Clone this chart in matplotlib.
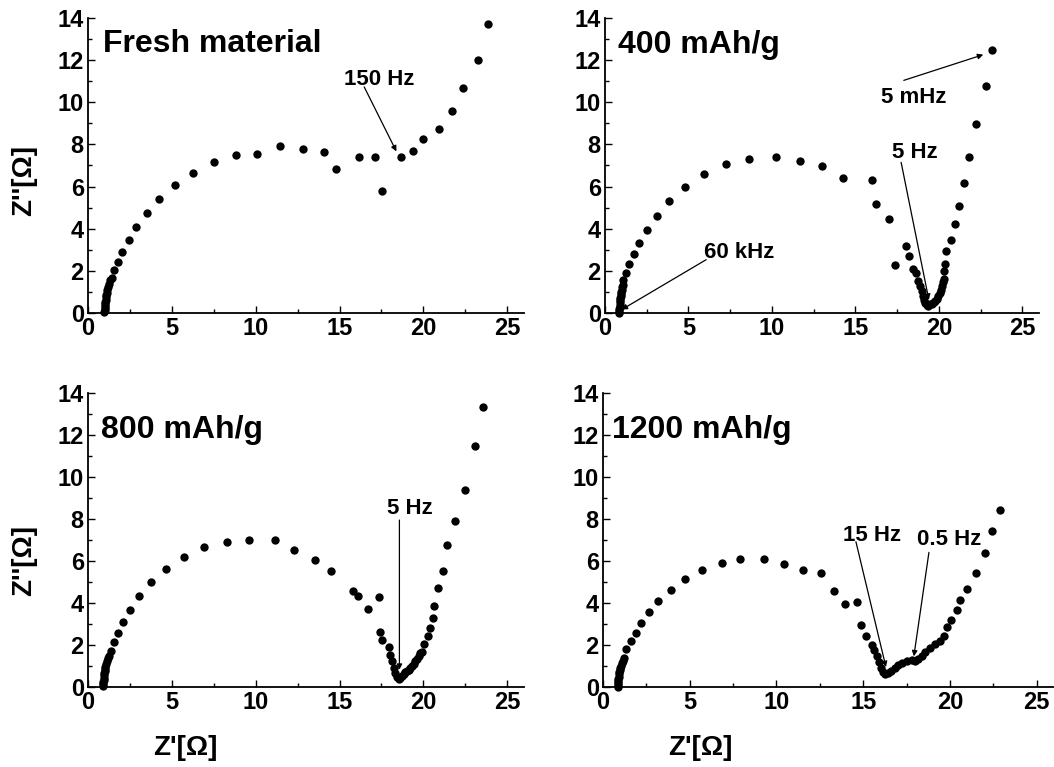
import matplotlib
matplotlib.use("Agg")
import matplotlib.pyplot as plt
from matplotlib.ticker import MultipleLocator

plt.rcParams['font.family'] = ['Liberation Sans', 'DejaVu Sans']
plt.rcParams['font.weight'] = 'bold'

# ---------------- data (Z' , Z'') ----------------
fresh_x = [0.98, 0.99, 1.0, 1.01, 1.02, 1.03, 1.05, 1.07, 1.09, 1.12, 1.15, 1.2, 1.26, 1.33,
           1.43, 1.58, 1.77, 2.04, 2.44, 2.89, 3.49, 4.24, 5.16, 6.29, 7.49, 8.80, 10.08,
           11.45, 12.81, 14.10, 14.76, 16.18, 17.09, 17.55, 18.67, 19.38, 20.0, 20.94,
           21.69, 22.39, 23.23, 23.86]
fresh_y = [0.03, 0.12, 0.22, 0.32, 0.42, 0.52, 0.63, 0.74, 0.85, 0.97, 1.1, 1.24, 1.4, 1.55,
           1.66, 2.05, 2.41, 2.91, 3.46, 4.07, 4.75, 5.41, 6.06, 6.63, 7.15, 7.48, 7.55,
           7.91, 7.77, 7.66, 6.84, 7.39, 7.39, 5.78, 7.39, 7.67, 8.28, 8.72,
           9.60, 10.68, 12.01, 13.70]

c400_x = [0.84, 0.85, 0.86, 0.87, 0.88, 0.89, 0.9, 0.92, 0.94, 0.96, 0.98, 1.0, 1.03, 1.06,
          1.10, 1.26, 1.42, 1.74, 2.06, 2.54, 3.14, 3.86, 4.82, 5.94, 7.26, 8.64, 10.24,
          11.66, 13.0, 14.28, 16.02, 16.24, 17.04, 17.4, 18.06, 18.24, 18.48, 18.64, 18.78,
          18.88, 18.98, 19.04, 19.12, 19.18, 19.28, 19.38, 19.48, 19.58, 19.68, 19.78,
          19.88, 19.96, 20.04, 20.12, 20.18, 20.24, 20.28, 20.32, 20.34, 20.42, 20.7,
          20.94, 21.2, 21.5, 21.82, 22.22, 22.84, 23.2]
c400_y = [0.02, 0.1, 0.2, 0.3, 0.4, 0.5, 0.6, 0.7, 0.8, 0.9, 1.0, 1.1, 1.22, 1.35,
          1.55, 1.88, 2.31, 2.79, 3.33, 3.96, 4.62, 5.3, 5.98, 6.58, 7.06, 7.31, 7.41,
          7.23, 6.96, 6.41, 6.30, 5.16, 4.45, 2.26, 3.19, 2.72, 2.07, 1.9, 1.51,
          1.27, 1.03, 0.8, 0.64, 0.49, 0.36, 0.35, 0.41, 0.45, 0.52, 0.58,
          0.68, 0.8, 0.96, 1.1, 1.28, 1.45, 1.59, 1.98, 2.33, 2.93, 3.47,
          4.23, 5.08, 6.16, 7.4, 8.98, 10.79, 12.48]

c800_x = [0.9, 0.91, 0.92, 0.93, 0.94, 0.95, 0.97, 0.99, 1.01, 1.04, 1.08, 1.12, 1.18, 1.25,
          1.35, 1.53, 1.77, 2.07, 2.49, 3.05, 3.73, 4.68, 5.74, 6.93, 8.29, 9.62, 11.16,
          12.27, 13.51, 14.48, 15.8, 16.08, 16.69, 17.35, 17.39, 17.53, 17.93, 18.03,
          18.13, 18.23, 18.33, 18.43, 18.53, 18.63, 18.73, 18.82, 18.92, 19.02, 19.12,
          19.22, 19.32, 19.42, 19.52, 19.62, 19.72, 19.82, 19.92, 20.02, 20.28, 20.38,
          20.56, 20.62, 20.88, 21.18, 21.41, 21.91, 22.51, 23.07, 23.57]
c800_y = [0.05, 0.15, 0.25, 0.35, 0.45, 0.55, 0.65, 0.75, 0.86, 0.97, 1.09, 1.22, 1.36, 1.5,
          1.73, 2.13, 2.56, 3.1, 3.69, 4.34, 5.0, 5.62, 6.19, 6.65, 6.91, 6.98, 6.98,
          6.54, 6.07, 5.53, 4.59, 4.31, 3.71, 4.28, 2.64, 2.25, 1.9, 1.54,
          1.22, 0.9, 0.67, 0.46, 0.40, 0.45, 0.54, 0.62, 0.70, 0.76, 0.82,
          0.9, 0.98, 1.1, 1.22, 1.35, 1.49, 1.6, 1.69, 2.06, 2.44, 2.8,
          3.28, 3.88, 4.72, 5.54, 6.75, 7.9, 9.38, 11.47, 13.34]

c1200_x = [0.85, 0.86, 0.87, 0.88, 0.89, 0.9, 0.92, 0.94, 0.97, 1.0, 1.04, 1.09, 1.15, 1.22,
           1.35, 1.6, 1.88, 2.21, 2.65, 3.19, 3.90, 4.75, 5.73, 6.85, 7.92, 9.31, 10.44,
           11.54, 12.54, 13.33, 13.98, 14.65, 14.9, 15.19, 15.52, 15.62, 15.77, 15.9,
           16.0, 16.12, 16.25, 16.44, 16.63, 16.83, 17.02, 17.21, 17.5, 17.79, 17.98,
           18.17, 18.37, 18.56, 18.85, 19.13, 19.42, 19.65, 19.85, 20.04, 20.38, 20.58,
           21.0, 21.48, 22.04, 22.4, 22.88]
c1200_y = [0.0, 0.1, 0.2, 0.3, 0.4, 0.5, 0.6, 0.7, 0.8, 0.9, 1.0, 1.12, 1.25, 1.4,
           1.8, 2.17, 2.57, 3.04, 3.56, 4.10, 4.62, 5.16, 5.57, 5.91, 6.10, 6.10, 5.88,
           5.56, 5.45, 4.55, 3.96, 4.07, 2.93, 2.45, 2.01, 1.74, 1.46, 1.17,
           0.9, 0.71, 0.63, 0.67, 0.78, 0.9, 1.06, 1.14, 1.22, 1.30, 1.25,
           1.33, 1.49, 1.69, 1.85, 2.06, 2.17, 2.44, 2.88, 3.17, 3.67, 4.15,
           4.67, 5.45, 6.37, 7.43, 8.43]

titles = ["Fresh material", "400 mAh/g", "800 mAh/g", "1200 mAh/g"]
xticks = [0, 5, 10, 15, 20, 25]
yticks = [0, 2, 4, 6, 8, 10, 12, 14]

W, H = 1054, 767
fig = plt.figure(figsize=(W / 100, H / 100), dpi=100)


def add_ax(left, right, top, bottom):
    return fig.add_axes([left / W, 1 - bottom / H, (right - left) / W, (bottom - top) / H])


# axes boxes in pixels (left, right, top, bottom)
boxes = [(88, 524, 18, 313), (605, 1039, 18, 313), (88, 524, 393, 687), (603, 1054, 393, 687)]
data = [(fresh_x, fresh_y), (c400_x, c400_y), (c800_x, c800_y), (c1200_x, c1200_y)]
title_pos = [(103, 52), (618, 53), (101, 438), (612, 438)]

axes = []
for box, (xs, ys), t, tp in zip(boxes, data, titles, title_pos):
    ax = add_ax(*box)
    ax.plot(xs, ys, 'o', color='black', markersize=6, markeredgewidth=0, clip_on=False)
    ax.set_xlim(0, 26)
    ax.set_ylim(0, 14)
    ax.set_xticks(xticks)
    ax.set_yticks(yticks)
    ax.xaxis.set_minor_locator(MultipleLocator(2.5))
    ax.yaxis.set_minor_locator(MultipleLocator(1))
    ax.tick_params(which='both', direction='in', labelsize=17, width=1.0, pad=3)
    ax.tick_params(which='major', length=5)
    ax.tick_params(which='minor', length=3)
    for s in ['top', 'right']:
        ax.spines[s].set_visible(False)
    for s in ['left', 'bottom']:
        ax.spines[s].set_linewidth(1.3)
    for lab in ax.get_xticklabels() + ax.get_yticklabels():
        lab.set_fontweight('bold')
    fig.text(tp[0] / W, 1 - tp[1] / H, t, fontsize=23, fontweight='bold', va='baseline', ha='left')
    axes.append(ax)

arrow = dict(arrowstyle='-|>', lw=0.9, color='black', mutation_scale=8, shrinkA=0, shrinkB=0)
fs = 16

ax = axes[0]
ax.text(17.39, 10.84, "150 Hz", fontsize=fs, fontweight='bold', ha='center', va='baseline')
ax.annotate('', xy=(18.39, 7.67), xytext=(16.47, 10.73), arrowprops=arrow)

ax = axes[1]
ax.text(18.5, 9.97, "5 mHz", fontsize=fs, fontweight='bold', ha='center', va='baseline')
ax.annotate('', xy=(22.66, 12.26), xytext=(17.9, 11.04), arrowprops=arrow)
ax.text(18.54, 7.36, "5 Hz", fontsize=fs, fontweight='bold', ha='center', va='baseline')
ax.annotate('', xy=(19.4, 0.63), xytext=(17.74, 7.15), arrowprops=arrow)
ax.text(8.06, 2.61, "60 kHz", fontsize=fs, fontweight='bold', ha='center', va='baseline')
ax.annotate('', xy=(1.0, 0.16), xytext=(6.06, 2.53), arrowprops=arrow)

ax = axes[2]
ax.text(19.2, 8.22, "5 Hz", fontsize=fs, fontweight='bold', ha='center', va='baseline')
ax.annotate('', xy=(18.57, 0.82), xytext=(18.57, 7.95), arrowprops=arrow)

ax = axes[3]
ax.text(15.5, 6.97, "15 Hz", fontsize=fs, fontweight='bold', ha='center', va='baseline')
ax.annotate('', xy=(16.31, 0.95), xytext=(14.58, 6.92), arrowprops=arrow)
ax.text(19.96, 6.76, "0.5 Hz", fontsize=fs, fontweight='bold', ha='center', va='baseline')
ax.annotate('', xy=(17.92, 1.46), xytext=(18.79, 6.41), arrowprops=arrow)

# axis labels
ylab = "Z''[\u03a9]"
xlab = "Z'[\u03a9]"
fig.text(24 / W, 1 - 180 / H, ylab, fontsize=20, fontweight='bold', rotation=90, ha='center', va='center')
fig.text(24 / W, 1 - 560 / H, ylab, fontsize=20, fontweight='bold', rotation=90, ha='center', va='center')
fig.text(185 / W, 1 - 748 / H, xlab, fontsize=20, fontweight='bold', ha='center', va='center')
fig.text(700 / W, 1 - 748 / H, xlab, fontsize=20, fontweight='bold', ha='center', va='center')

fig.savefig("out.png", dpi=100)
